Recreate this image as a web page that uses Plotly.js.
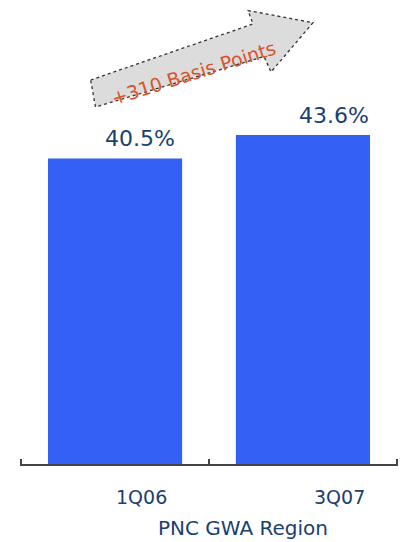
<!DOCTYPE html>
<html>
<head>
<meta charset="utf-8">
<script src="https://cdn.plot.ly/plotly-3.0.1.min.js"></script>
<style>html,body{margin:0;padding:0;background:#fff;}#chart{width:401px;height:542px;}</style>
</head>
<body>
<div id="chart"></div>
<script>
var categories = ['1Q06', '3Q07'];
var values = [40.5, 43.6];
var valueLabels = ['40.5%', '43.6%'];
var axisTitle = 'PNC GWA Region';
var arrowText = '+310 Basis Points';

// label offsets (style only, pixels)
var valueLabelShift = [25, 31];
var tickLabelShift = [26, 37];

var W = 401, H = 542;
var mL = 20, mR = 3, mT = 0, mB = 78;
var pw = W - mL - mR, ph = H - mT - mB;
function px(x) { return (x - mL) / pw; }
function py(y) { return (H - mB - y) / ph; }
var arrowPts = [[90.7, 80], [253, 24], [248, 10.5], [313, 22.7], [271, 72], [264, 56.5], [95.5, 107]];
var path = arrowPts.map(function (p, i) { return (i ? 'L' : 'M') + px(p[0]).toFixed(4) + ',' + py(p[1]).toFixed(4); }).join(' ') + ' Z';

var textColor = '#1a4070';
var font = 'DejaVu Sans, Verdana, sans-serif';

var annotations = [];
categories.forEach(function (c, i) {
  annotations.push({
    x: c, y: values[i], xref: 'x', yref: 'y', text: valueLabels[i], showarrow: false,
    xanchor: 'center', yanchor: 'middle', xshift: valueLabelShift[i], yshift: 20,
    font: {family: font, size: 22, color: textColor}
  });
  annotations.push({
    x: c, y: py(497), xref: 'x', yref: 'paper', text: c, showarrow: false,
    xanchor: 'center', yanchor: 'middle', xshift: tickLabelShift[i],
    font: {family: font, size: 19, color: textColor}
  });
});
annotations.push({
  x: px(242.5), y: py(528), xref: 'paper', yref: 'paper', text: axisTitle, showarrow: false,
  xanchor: 'center', yanchor: 'middle', font: {family: font, size: 20, color: textColor}
});
annotations.push({
  x: px(193), y: py(73), xref: 'paper', yref: 'paper', text: arrowText, showarrow: false,
  xanchor: 'center', yanchor: 'middle', textangle: -17.5,
  font: {family: font, size: 19, color: '#d9532a'}
});

var data = [{
  type: 'bar', x: categories, y: values,
  marker: {color: '#3560f5', line: {width: 0}},
  hoverinfo: 'none'
}];

var layout = {
  width: W, height: H,
  margin: {l: mL, r: mR, t: mT, b: mB, pad: 0},
  paper_bgcolor: '#ffffff', plot_bgcolor: '#ffffff',
  showlegend: false,
  bargap: 0.286,
  xaxis: {
    type: 'category', range: [-0.506, 1.506], tickson: 'boundaries',
    showline: true, linecolor: '#444', linewidth: 1.5,
    ticks: 'inside', ticklen: 5, tickcolor: '#444', tickwidth: 1.5,
    showgrid: false, zeroline: false, showticklabels: false
  },
  yaxis: {
    range: [0, 61.5], visible: false, showgrid: false, zeroline: false
  },
  shapes: [{
    type: 'path', xref: 'paper', yref: 'paper', path: path,
    fillcolor: '#dcdcdc', line: {color: '#333', width: 1.3, dash: 'dot'}, layer: 'below'
  }],
  annotations: annotations
};

Plotly.newPlot('chart', data, layout, {displayModeBar: false, staticPlot: true});
</script>
</body>
</html>
